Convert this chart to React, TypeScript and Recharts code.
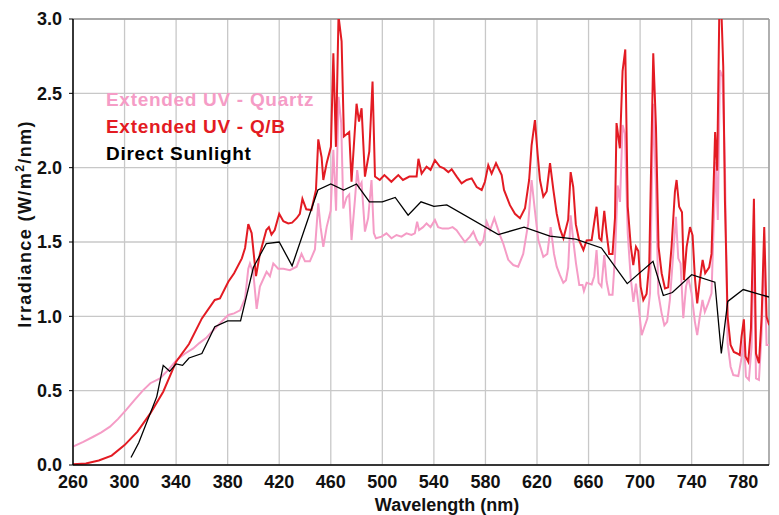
import { LineChart, Line, XAxis, YAxis, CartesianGrid, Legend, ReferenceLine } from 'recharts';

const xTicks = [260, 300, 340, 380, 420, 460, 500, 540, 580, 620, 660, 700, 740, 780];
const yTicks = [0, 0.5, 1, 1.5, 2, 2.5, 3];

// [wavelength nm, irradiance W/m2/nm]
const quartzUV: [number, number][] = [
  [260, 0.123], [268, 0.155], [275.7, 0.19], [282, 0.22], [288.7, 0.258], [295, 0.31], [301.6, 0.374],
  [308, 0.44], [314.5, 0.504], [320, 0.55], [327.5, 0.583], [334, 0.64], [340.4, 0.706], [347, 0.75],
  [353.3, 0.784], [358, 0.82], [363.7, 0.858], [367, 0.89], [371.5, 0.93], [376, 0.97], [380.5, 1.009],
  [385, 1.02], [389.6, 1.04], [393.5, 1.12], [396, 1.32], [397.3, 1.356], [399.9, 1.29], [402.5, 1.05],
  [405, 1.2], [410.2, 1.3], [412.8, 1.27], [415.4, 1.356], [419.2, 1.32], [423.2, 1.32], [428.3, 1.31],
  [433.5, 1.334], [437.3, 1.42], [440, 1.37], [443.8, 1.37], [447.7, 1.45], [450.3, 1.76], [452.1, 1.6],
  [454.2, 1.468], [456.8, 1.6], [459.9, 1.71], [462, 2.12], [464.1, 1.71], [466, 2.477], [468.1, 2.3],
  [469.7, 1.726], [472.3, 1.8], [474.3, 1.82], [476.1, 1.513], [478.7, 1.78], [480.5, 1.984], [482.1, 1.87],
  [483.9, 1.9], [486.5, 1.57], [489, 1.66], [491.6, 1.917], [493.4, 1.56], [495, 1.525], [499.4, 1.536],
  [503.2, 1.558], [507.1, 1.525], [511, 1.547], [514.9, 1.536], [518.7, 1.558], [522.6, 1.547], [525.2, 1.558],
  [527, 1.636], [528.5, 1.58], [531.6, 1.6], [534.3, 1.625], [537.4, 1.6], [540.8, 1.648], [543.3, 1.6],
  [546.7, 1.59], [551.2, 1.59], [554.5, 1.6], [557.6, 1.58], [560.2, 1.547], [564.1, 1.5], [568, 1.536],
  [570.6, 1.57], [573.2, 1.513], [575.8, 1.48], [578.4, 1.513], [581, 1.636], [583.6, 1.58], [586.9, 1.66],
  [590.7, 1.558], [593.8, 1.49], [597.7, 1.38], [601.6, 1.345], [605.4, 1.334], [609.3, 1.42], [613.2, 1.625],
  [615.8, 1.917], [618.4, 1.71], [621, 1.513], [624.9, 1.4], [628, 1.42], [630.6, 1.6], [633.2, 1.42],
  [635.3, 1.334], [637.8, 1.277], [640.4, 1.226], [642.5, 1.243], [644.2, 1.33], [646.1, 1.68], [648.1, 1.513],
  [650.2, 1.36], [652.8, 1.21], [655.3, 1.21], [656.4, 1.17], [658.5, 1.226], [662.4, 1.215], [664.4, 1.27],
  [666.2, 1.446], [667.8, 1.226], [670, 1.2], [672.2, 1.412], [674, 1.234], [676, 1.145], [678.6, 1.145],
  [680.5, 1.4], [682.6, 1.88], [684.4, 1.77], [686.4, 2.287], [688.2, 2.23], [690.4, 1.558], [692.7, 1.26],
  [694.8, 1.098], [696.8, 1.22], [698.6, 1.087], [701.2, 0.874], [703, 0.92], [705.6, 0.985], [707.7, 1.155],
  [710.2, 2.43], [712.3, 1.87], [714.1, 1.155], [716.7, 1.02], [718.8, 0.94], [721, 0.963], [723.1, 1.11],
  [725.7, 1.42], [727.8, 1.67], [729.6, 1.39], [731.4, 1.356], [733.5, 0.987], [735.6, 1.2], [737.4, 1.26],
  [739.9, 1.155], [742.5, 0.963], [744.3, 0.874], [746.3, 0.997], [748.4, 1.11], [750.2, 1.03], [752.8, 1.087],
  [755.4, 1.155], [757.3, 1.67], [758.8, 2.04], [760.3, 1.648], [761.9, 2.656], [763.9, 2.61], [765.8, 2.006],
  [767.9, 0.818], [770.2, 0.661], [772.3, 0.605], [776.2, 0.598], [778.7, 0.72], [780.5, 0.84], [782.1, 0.594],
  [784.4, 0.572], [786.5, 0.796], [788.3, 1.558], [789.9, 0.583], [792.2, 0.572], [794.3, 0.885], [796.3, 1.457],
  [798.1, 0.807], [800.2, 0.807],
];

const quartzBlueUV: [number, number][] = [
  [260, 0.005], [270, 0.01], [280, 0.03], [290, 0.063], [300, 0.134], [310, 0.224], [320, 0.347],
  [330, 0.493], [340, 0.695], [350, 0.814], [360, 0.986], [370, 1.11], [374, 1.12], [380.5, 1.233],
  [385, 1.29], [391, 1.39], [393.5, 1.46], [396, 1.62], [398.6, 1.56], [402, 1.27], [405, 1.42],
  [410, 1.58], [412, 1.6], [414, 1.55], [416.5, 1.58], [420, 1.69], [423.2, 1.64], [427, 1.625],
  [430, 1.63], [433.5, 1.66], [436, 1.69], [438, 1.79], [441, 1.72], [445, 1.715], [448.5, 1.85],
  [450.3, 2.19], [452.9, 2.07], [454.2, 1.917], [456.8, 2.03], [460.1, 2.14], [462, 2.77], [464, 2.14],
  [466, 3.02], [468.4, 2.85], [470.2, 2.21], [474.3, 2.24], [476.1, 1.905], [480, 2.43], [481.9, 2.31],
  [483.9, 2.4], [486.5, 1.94], [489.9, 2.11], [492.4, 2.58], [494.3, 1.94], [498, 1.917], [501.6, 1.95],
  [504, 1.93], [507, 1.905], [510, 1.93], [512.4, 1.95], [516, 1.917], [521, 1.94], [526.6, 1.94],
  [528, 2.06], [530.5, 1.96], [534.3, 2.006], [537.4, 1.985], [540.8, 2.05], [544.7, 2.006], [547.8, 1.995],
  [551.2, 1.97], [553.8, 1.99], [557.7, 1.94], [561.5, 1.894], [565.4, 1.917], [569.3, 1.928], [573.2, 1.87],
  [577.1, 1.85], [579.6, 1.905], [582.2, 2.017], [584.8, 1.96], [588.2, 2.03], [592.6, 1.95], [594.4, 1.85],
  [599, 1.748], [602.9, 1.69], [606.8, 1.66], [610.7, 1.727], [613.9, 1.917], [615.8, 2.15], [618.4, 2.32],
  [620.5, 2.09], [622.3, 1.917], [624.9, 1.805], [627.5, 1.84], [630.1, 2.03], [632.7, 1.85], [635.3, 1.69],
  [637.8, 1.59], [640.5, 1.525], [644.2, 1.65], [646.1, 1.97], [648.1, 1.87], [650.1, 1.62], [652.7, 1.51],
  [656, 1.446], [658.5, 1.51], [662.4, 1.513], [666.2, 1.737], [668.3, 1.525], [670, 1.51], [672.2, 1.71],
  [674, 1.56], [676, 1.42], [678.6, 1.42], [680.5, 1.66], [681.7, 2.3], [684.3, 2.13], [686.4, 2.65],
  [688.5, 2.795], [690.4, 1.737], [692.8, 1.468], [694.7, 1.345], [696.8, 1.468], [698.6, 1.44], [700.4, 1.2],
  [702.5, 1.11], [705, 1.15], [707.1, 1.357], [710.2, 2.77], [712.3, 2.275], [714.3, 1.468], [716.7, 1.29],
  [719.3, 1.188], [721.8, 1.195], [724.4, 1.468], [727, 1.838], [728.3, 1.917], [730.3, 1.737], [732.5, 1.7],
  [734, 1.244], [736.1, 1.468], [738.7, 1.6], [740.7, 1.545], [742.5, 1.26], [744.3, 1.087], [746.3, 1.24],
  [748.5, 1.38], [750.5, 1.29], [753.6, 1.33], [755.4, 1.42], [757.3, 1.96], [758.2, 2.24], [759.8, 1.98],
  [761.4, 3.02], [763.2, 3.02], [764.5, 2.68], [765.8, 1.78], [767.9, 0.997], [770.2, 0.807], [772.7, 0.76],
  [775.3, 0.75], [777.3, 0.74], [778.7, 0.863], [780.5, 0.98], [781.8, 0.73], [783.9, 0.695], [786, 0.92],
  [788.3, 1.79], [789.9, 0.75], [792.2, 0.684], [794.3, 0.997], [796.3, 1.6], [798.1, 0.997], [800.2, 0.94],
];

const sunlight: [number, number][] = [
  [305, 0.05], [311, 0.15], [325, 0.46], [330, 0.67], [335, 0.63], [340, 0.68], [345, 0.67], [350, 0.72],
  [360, 0.75], [370, 0.93], [380, 0.97], [390, 0.97], [400, 1.33], [410, 1.49], [420, 1.5], [430, 1.34],
  [450, 1.85], [460, 1.89], [470, 1.85], [480, 1.89], [490, 1.77], [500, 1.77], [510, 1.8], [520, 1.68],
  [530, 1.77], [540, 1.74], [550, 1.75], [590, 1.55], [610, 1.6], [630, 1.54], [650, 1.52], [670, 1.46],
  [690, 1.22], [710, 1.37], [718, 1.14], [725, 1.16], [740, 1.28], [758, 1.23], [763, 0.75], [768, 1.1],
  [780, 1.18], [800, 1.13],
];

const toPoints = (s: [number, number][]) => s.map(([nm, v]) => ({ nm, v }));

const series = [
  { name: 'Extended UV - Quartz', color: '#f59cc6', width: 2, points: toPoints(quartzUV) },
  { name: 'Extended UV - Q/B', color: '#e31b23', width: 2, points: toPoints(quartzBlueUV) },
  { name: 'Direct Sunlight', color: '#000000', width: 1.3, points: toPoints(sunlight) },
];

const font = '"Liberation Sans", Arial, Helvetica, sans-serif';
const tickStyle = { fontFamily: font, fontSize: 18, fontWeight: 700, fill: '#111' };

function LegendBox() {
  return (
    <div style={{ fontFamily: font, fontSize: 19, fontWeight: 700, lineHeight: '27px', letterSpacing: 0.7 }}>
      {series.map((s) => (
        <div key={s.name} style={{ color: s.color }}>{s.name}</div>
      ))}
    </div>
  );
}

function YLabel() {
  return (
    <text transform="translate(31,224) rotate(-90)" textAnchor="middle" fontFamily={font} fontSize={18}
      fontWeight={700} fill="#111" letterSpacing={1.4}>
      Irradiance (W/m<tspan dy={-7} fontSize={12}>2</tspan><tspan dy={7}>/nm)</tspan>
    </text>
  );
}

export default function App() {
  return (
    <div style={{ width: 779, height: 515, background: '#fff' }}>
      <style>{'body{margin:0}'}</style>
      <LineChart width={779} height={515} margin={{ top: 19, right: 10, left: 0, bottom: 0 }}>
        <CartesianGrid stroke="#c8c8c8" strokeWidth={1.3} />
        <XAxis dataKey="nm" type="number" domain={[260, 800]} ticks={xTicks} allowDataOverflow
          height={50} tick={tickStyle} tickLine={false} tickSize={5} tickMargin={5}
          axisLine={{ stroke: '#000', strokeWidth: 1.5 }}
          label={{ value: 'Wavelength (nm)', position: 'insideBottom', offset: 4, dx: 26,
            style: { fontFamily: font, fontSize: 18, fontWeight: 700, fill: '#111' } }} />
        <YAxis type="number" domain={[0, 3]} ticks={yTicks} allowDataOverflow width={73}
          tick={tickStyle} tickSize={4} tickMargin={7} tickFormatter={(v: number) => v.toFixed(1)}
          tickLine={{ stroke: '#000' }} axisLine={{ stroke: '#000', strokeWidth: 1.5 }}
          label={{ content: () => <YLabel /> }} />
        <ReferenceLine y={3} stroke="#999" strokeWidth={1.3} />
        <ReferenceLine x={800} stroke="#999" strokeWidth={1.3} />
        <Legend content={() => <LegendBox />} layout="horizontal" verticalAlign="middle" align="center"
          wrapperStyle={{ position: 'absolute', left: 106, top: 86, width: 320 }} />
        {series.map((s) => (
          <Line key={s.name} data={s.points} dataKey="v" name={s.name} type="linear" stroke={s.color}
            strokeWidth={s.width} dot={false} isAnimationActive={false} />
        ))}
      </LineChart>
    </div>
  );
}
